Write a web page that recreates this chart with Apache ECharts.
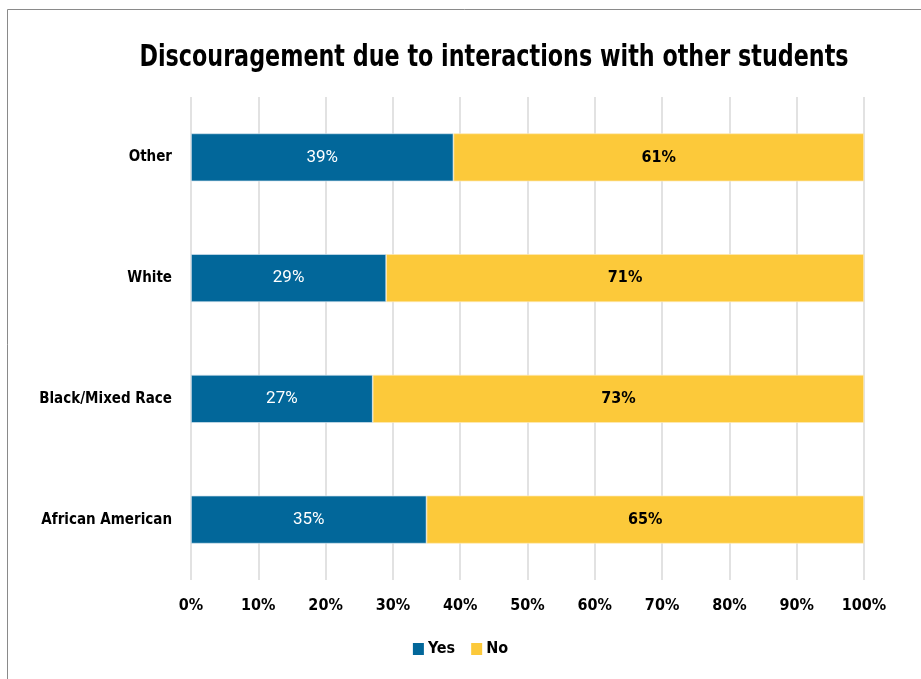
<!DOCTYPE html>
<html>
<head>
<meta charset="utf-8">
<script src="https://cdn.jsdelivr.net/npm/echarts@6/dist/echarts.min.js"></script>
<style>
  html, body { margin: 0; padding: 0; background: #fff; }
  #chart { width: 921px; height: 679px; }
</style>
</head>
<body>
<div id="chart"></div>
<script>
// Survey groups, listed bottom to top
const groups = ['African American', 'Black/Mixed Race', 'White', 'Other'];
// Share of respondents (percent) for each answer
const yesValues = [35, 27, 29, 39];
const noValues = [65, 73, 71, 61];
const seriesNames = ['Yes', 'No'];
const chartTitle = 'Discouragement due to interactions with other students';

const narrow = '"Liberation Sans Narrow", "DejaVu Sans Condensed", sans-serif';
const chart = echarts.init(document.getElementById('chart'));

chart.setOption({
  backgroundColor: '#fff',
  animation: false,
  graphic: [
    {
      type: 'rect',
      shape: { x: 7.5, y: 9.5, width: 1000, height: 1000 },
      style: { fill: 'none', stroke: '#8a8a8a', lineWidth: 1 },
      silent: true
    },
    {
      // heavy, condensed headline
      type: 'text',
      x: 494,
      y: 58,
      scaleX: 0.825,
      style: {
        text: chartTitle,
        x: 0,
        y: 0,
        align: 'center',
        verticalAlign: 'middle',
        font: 'bold 30px "DejaVu Sans Condensed", sans-serif',
        fill: '#000'
      },
      silent: true
    }
  ],
  legend: {
    bottom: 17,
    left: 'center',
    itemWidth: 11,
    itemHeight: 12,
    itemGap: 16,
    icon: 'rect',
    itemStyle: { borderWidth: 0 },
    textStyle: { fontFamily: narrow, fontWeight: 'bold', fontSize: 16, color: '#000', padding: [0, 0, 0, -1] },
    data: seriesNames
  },
  grid: { left: 191, right: 57, top: 97, bottom: 99 },
  xAxis: {
    type: 'value',
    min: 0,
    max: 100,
    interval: 10,
    axisLine: { show: false },
    axisTick: { show: false },
    splitLine: { lineStyle: { color: '#d9d9d9', width: 1.5 } },
    axisLabel: { formatter: '{value}%', margin: 18, fontFamily: narrow, fontWeight: 'bold', fontSize: 16, color: '#000' }
  },
  yAxis: {
    type: 'category',
    data: groups,
    axisLine: { show: false },
    axisTick: { show: false },
    axisLabel: { margin: 19, fontFamily: narrow, fontWeight: 'bold', fontSize: 15, color: '#000' }
  },
  series: [
    {
      name: seriesNames[0],
      type: 'bar',
      stack: 'total',
      barWidth: 48,
      data: yesValues,
      itemStyle: { color: '#02679a', borderColor: '#d6e4ee', borderWidth: 0.7 },
      label: {
        show: true, position: 'inside', formatter: '{c}%',
        color: '#fff', fontFamily: 'Roboto, sans-serif', fontSize: 17
      }
    },
    {
      name: seriesNames[1],
      type: 'bar',
      stack: 'total',
      barWidth: 48,
      data: noValues,
      itemStyle: { color: '#fcc93a', borderColor: '#fde9b8', borderWidth: 0.7 },
      label: {
        show: true, position: 'inside', formatter: '{c}%',
        color: '#000', fontFamily: narrow, fontWeight: 'bold', fontSize: 16
      }
    }
  ]
});
</script>
</body>
</html>
